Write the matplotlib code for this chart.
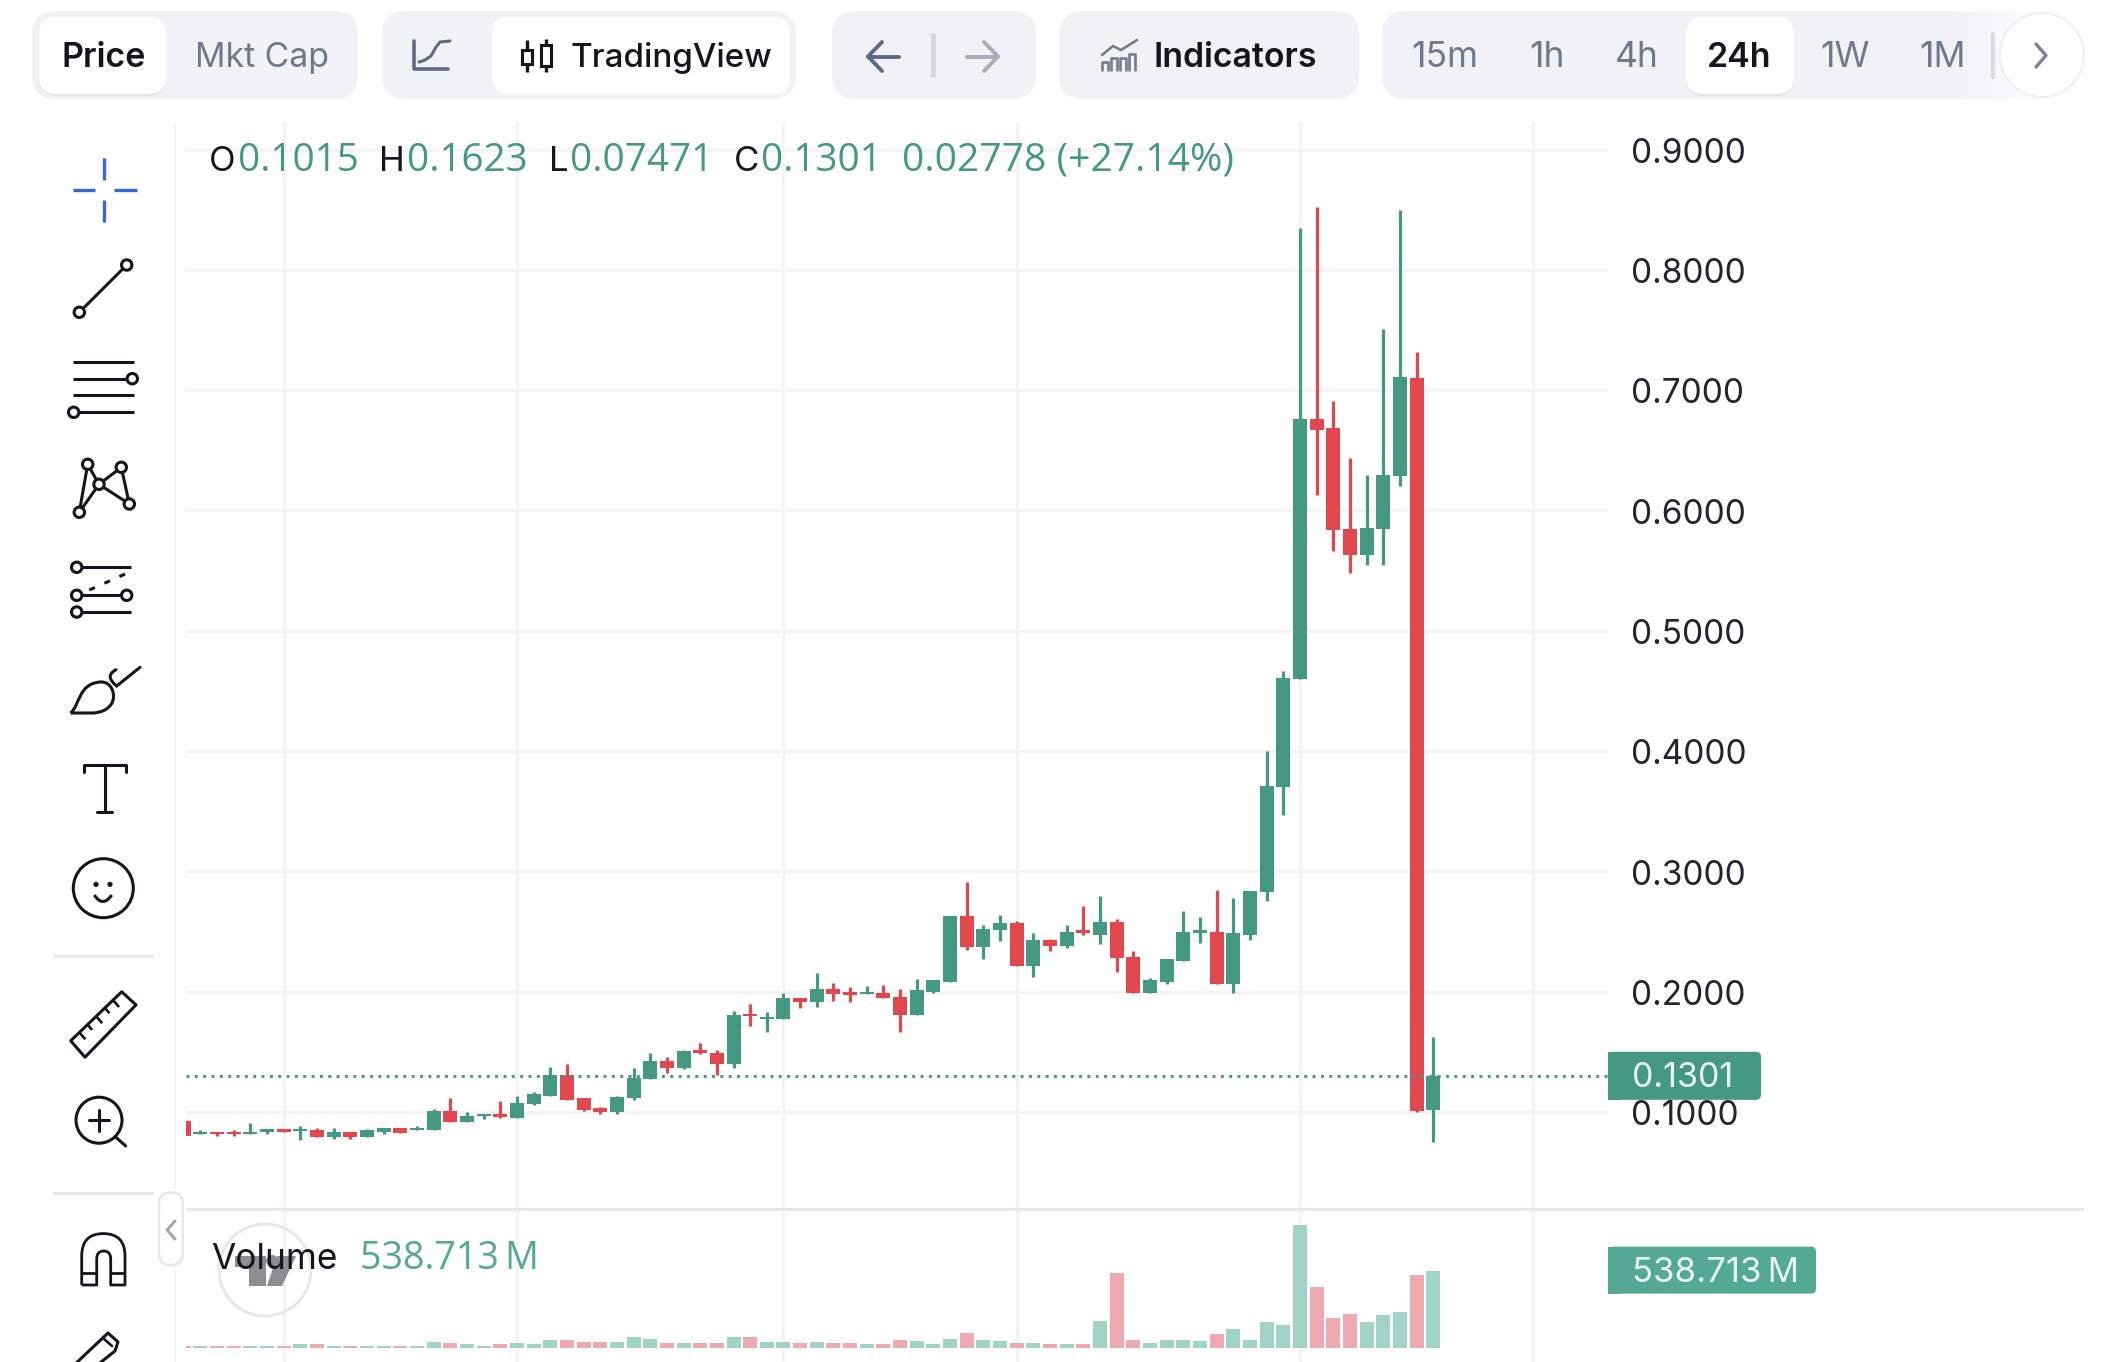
import numpy as np
import matplotlib
matplotlib.use("Agg")
import matplotlib.pyplot as plt
from matplotlib.patches import FancyBboxPatch, Rectangle, Circle, Polygon, PathPatch, Ellipse
from matplotlib.path import Path
from matplotlib.transforms import ScaledTranslation

# Daily candles, oldest first
opens = [.0928,.0814,.0834,.0834,.0814,.0836,.0859,.0839,.0848,.0789,.0836,.0789,.0836,.0870,.0848,.0848,
         .1008,.0917,.0964,.0986,.0953,.1066,.1136,.1307,.1114,.1030,.0997,.1114,.1274,.1424,.1366,.1515,
         .1493,.1402,.1817,.1770,.1773,.1945,.1912,.2022,.2000,.1981,.1989,.1956,.1806,.2000,.2084,.2627,
         .2372,.2510,.2568,.2211,.2430,.2383,.2510,.2474,.2580,.2291,.1992,.2084,.2258,.2488,.2499,.2061,
         .2474,.2825,.3699,.4599,.6758,.6688,.5844,.5628,.5846,.6287,.7101,.1015]
highs = [.0928,.0848,.0834,.0848,.0906,.0859,.0859,.0881,.0870,.0870,.0836,.0859,.0870,.0870,.0884,.1022,
         .1114,.0997,.0986,.1089,.1136,.1169,.1377,.1402,.1114,.1044,.1130,.1366,.1493,.1460,.1515,.1574,
         .1515,.1840,.1895,.1828,.1987,.1945,.2153,.2070,.2037,.2047,.2059,.2025,.2106,.2095,.2627,.2912,
         .2554,.2635,.2591,.2485,.2441,.2554,.2715,.2798,.2602,.2336,.2117,.2269,.2671,.2624,.2843,.2776,
         .2834,.4001,.4668,.8351,.8520,.6908,.6434,.6295,.7506,.8498,.7320,.1623]
lows = [.0800,.0814,.0800,.0800,.0814,.0814,.0836,.0767,.0789,.0778,.0778,.0789,.0814,.0825,.0848,.0848,
        .0917,.0917,.0939,.0950,.0953,.1055,.1136,.1102,.1008,.0986,.0986,.1102,.1274,.1321,.1355,.1482,
        .1310,.1368,.1712,.1668,.1773,.1862,.1875,.1923,.1912,.1981,.1945,.1668,.1806,.1992,.2084,.2350,
        .2269,.2419,.2211,.2120,.2338,.2361,.2474,.2394,.2164,.1992,.1992,.2061,.2258,.2408,.2061,.1992,
        .2430,.2756,.3469,.4599,.6126,.5663,.5478,.5547,.5547,.6206,.1000,.07471]
closes = [.0800,.0834,.0814,.0817,.0834,.0859,.0836,.0859,.0789,.0836,.0789,.0848,.0870,.0825,.0870,.1011,
          .0917,.0964,.0986,.0961,.1078,.1147,.1307,.1102,.1019,.0997,.1125,.1285,.1424,.1366,.1504,.1493,
          .1402,.1804,.1798,.1792,.1945,.1912,.2022,.1978,.1973,.2000,.1945,.1806,.2014,.2095,.2627,.2372,
          .2521,.2568,.2211,.2430,.2383,.2499,.2488,.2580,.2280,.1992,.2095,.2269,.2499,.2510,.2061,.2488,
          .2834,.3710,.4608,.6758,.6669,.5838,.5628,.5857,.6295,.7112,.1008,.1301]
# Traded volume per candle, millions
volumes = [18.5,18.5,18.5,18.5,18.5,18.5,18.5,27.7,27.7,18.5,18.5,18.5,18.5,18.5,18.5,46.2,37,27.7,18.5,27.7,
           37,27.7,57.8,57.8,46.2,46.2,46.2,76.3,67,37,37,37,37,76.3,76.3,46.2,46.2,37,46.2,37,37,
           27.7,27.7,57.8,48.6,27.7,67,106.4,57.8,48.6,39.3,39.3,27.7,27.7,27.7,191.9,520.2,57.8,39.3,57.8,57.8,
           48.6,97.1,134.1,57.8,182.6,164.2,857.8,423.1,210.4,240.4,182.6,231.2,249.7,511,538.713]
price_ticks = [0.1, 0.2, 0.3, 0.4, 0.5, 0.6, 0.7, 0.8, 0.9]
time_ticks = [5, 19, 35, 49, 66, 80]
interval_labels = ["15m", "1h", "4h", "24h", "1W", "1M"]
ohlc_labels = ["0.1015", "0.1623", "0.07471", "0.1301"]
change_label = "0.02778 (+27.14%)"
volume_label = "538.713\u2009M"

GREEN, RED = "#459882", "#e0484e"
VOL_GREEN, VOL_RED = "#a1d4c6", "#eeaab0"
INK, SLATE, PANEL, LINE, GRID = "#14161f", "#6f788d", "#f0f2f6", "#e6e7ec", "#f4f4f6"
WIDE_DIGITS = ["Open Sans", "DejaVu Sans"]

plt.rcParams["font.family"] = ["Inter", "DejaVu Sans"]
W, H = 2104, 1362
fig = plt.figure(figsize=(W / 100, H / 100), dpi=100, facecolor="white")


def pane(x0, y0, x1, y1):
    return fig.add_axes([x0 / W, 1 - y1 / H, (x1 - x0) / W, (y1 - y0) / H])


# ---- price pane ----
ax = pane(186, 122, 1608, 1209)
idx = np.arange(len(opens)) - 1
ax.set_xlim(-0.864, 84.49)
ax.set_ylim(0.01937, 0.92294)
colors = [GREEN if c > o else RED for o, c in zip(opens, closes)]
ax.vlines(idx, lows, highs, colors=colors, linewidth=2.3, zorder=3)
body_low = np.minimum(opens, closes)
body_high = np.maximum(opens, closes)
ax.bar(idx, body_high - body_low, bottom=body_low, width=0.84, color=colors, zorder=4)
ax.axhline(closes[-1], color=GREEN, linewidth=2.1, linestyle=(0, (1, 1.86)), zorder=5)
ax.set_yticks(price_ticks, [f"{v:.4f}" for v in price_ticks])
ax.set_xticks(time_ticks, [""] * len(time_ticks))
ax.yaxis.tick_right()
ax.tick_params(axis="both", length=0)
ax.tick_params(axis="y", pad=16.5, labelsize=24, labelcolor="#22252f")
nudge = ScaledTranslation(0, -0.5 / 72, fig.dpi_scale_trans)
for tick_label in ax.get_yticklabels():
    tick_label.set_transform(tick_label.get_transform() + nudge)
ax.grid(True, color=GRID, linewidth=2.2, zorder=0)
ax.set_axisbelow(True)
for s in ax.spines.values():
    s.set_visible(False)

# ---- volume pane ----
vax = pane(186, 1209, 1608, 1362)
vax.set_xlim(ax.get_xlim())
vax.set_ylim(-95, 966)
vax.bar(idx, volumes, width=0.84, color=[VOL_GREEN if c == GREEN else VOL_RED for c in colors], zorder=3)
vax.set_xticks(time_ticks, [""] * len(time_ticks))
vax.set_yticks([])
vax.tick_params(axis="x", length=0)
vax.grid(True, axis="x", color=GRID, linewidth=2.2, zorder=0)
vax.set_axisbelow(True)
vax.patch.set_alpha(0)
for s in vax.spines.values():
    s.set_visible(False)

# ---- interface furniture, laid out in screen pixels ----
ui = fig.add_axes([0, 0, 1, 1], zorder=10)
ui.set_xlim(0, W)
ui.set_ylim(H, 0)
ui.axis("off")
ui.patch.set_alpha(0)


def box(x0, y0, x1, y1, r, fc, ec="none", lw=0, z=1):
    p = FancyBboxPatch((x0 + r, y0 + r), x1 - x0 - 2 * r, y1 - y0 - 2 * r,
                       boxstyle=f"round,pad={r},rounding_size={r}", fc=fc, ec=ec, lw=lw, zorder=z)
    ui.add_patch(p)
    return p


def stroke(xs, ys, color=INK, lw=2.2, z=6, **kw):
    ui.plot(xs, ys, color=color, lw=lw, zorder=z, solid_capstyle=kw.pop("cap", "round"),
            solid_joinstyle="round", **kw)


def ring(x, y, r=5.2, color=INK, lw=2.2):
    ui.add_patch(Circle((x, y), r, fc="white", ec=color, lw=lw, zorder=7))


def label(x, y, s, color=INK, size=23.5, weight="normal", ha="left", va="baseline", z=8, family=None):
    t = ui.text(x, y, s, color=color, fontsize=size, fontweight=weight, ha=ha, va=va, zorder=z)
    if family:
        t.set_fontfamily(family)
    return t


# toolbar groups
for x0, x1 in [(32, 358), (382, 796), (832, 1036), (1059, 1359), (1382, 2058)]:
    box(x0, 11, x1, 99, 24, PANEL)
for x0, x1 in [(39, 166), (1686, 1794)]:
    box(x0, 19, x1, 96, 17, "#e3e5ea", z=2)
for x0, x1 in [(39, 166), (492, 790), (1686, 1794)]:
    box(x0, 17, x1, 94, 17, "white", z=3)

fade = np.ones((1, 64, 4))
fade[..., 3] = np.linspace(0, 1, 64)
ui.imshow(fade, extent=(1945, 2060, 100, 8), aspect="auto", zorder=4)
ui.set_xlim(0, W)
ui.set_ylim(H, 0)
stroke([1993, 1993], [34, 77], color="#d8dbe3", lw=3, z=5)
ui.add_patch(Circle((2042, 55), 42, fc="white", ec="#eff0f3", lw=1.6, zorder=6))
stroke([2036, 2046, 2036], [44, 55.5, 67], color="#7b8294", lw=2.4, z=7)

label(62, 67, "Price", INK, 24.5, "semibold")
label(195, 67, "Mkt Cap", SLATE, 24.3)
label(571, 67, "TradingView", INK, 23.9, "medium")
label(1153, 67, "Indicators", INK, 24.3, "semibold")
for cx, s in zip([1445, 1547, 1637, 1739, 1845, 1943], interval_labels):
    chosen = s == "24h"
    label(cx, 67, s, INK if chosen else SLATE, 24.5 if chosen else 25.5, "semibold" if chosen else "normal", ha="center")

# line-chart icon
stroke([414, 414, 448], [41, 69, 69], color="#5f6b85", lw=2.6)
t = np.array([419, 425, 431, 436, 440, 450])
stroke(t, [62, 60, 56, 47, 42, 41], color="#5f6b85", lw=2.2)
# candle icon
for cx, top, bot, wt, wb in [(527, 50, 64, 40, 72), (546, 45, 66, 39, 72)]:
    stroke([cx, cx], [wt, wb], lw=2.4, cap="butt")
    ui.add_patch(Rectangle((cx - 5, top), 10, bot - top, fc="white", ec=INK, lw=2.2, zorder=7))
# history arrows
stroke([868, 899], [56.5, 56.5], color="#5f6b85", lw=2.8)
stroke([882, 868, 882], [42, 56.5, 71], color="#5f6b85", lw=2.8)
stroke([933, 933], [33, 77], color="#d2d6e0", lw=3.4, cap="butt")
stroke([967, 998], [56.5, 56.5], color="#a7adbb", lw=2.8)
stroke([984, 998, 984], [42, 56.5, 71], color="#a7adbb", lw=2.8)
# indicators icon
for x0 in [1102, 1111, 1120, 1129]:
    top = {1102: 62, 1111: 58, 1120: 58, 1129: 54}[x0]
    stroke([x0, x0, x0 + 6, x0 + 6], [70, top, top, 70], color="#757c8e", lw=1.9)
stroke([1102, 1113, 1121, 1137], [55, 46, 50, 40], color="#757c8e", lw=1.9)

# sidebar
stroke([175, 175], [125, 1362], color="#f6f6f8", lw=1.6, z=0)
BLUE = "#3b66d8"
for xs, ys in [([104.3, 104.3], [158, 180]), ([104.3, 104.3], [200, 222]),
               ([73, 95], [190, 190]), ([114, 136.5], [190, 190])]:
    stroke(xs, ys, color=BLUE, lw=2.4, cap="butt")
stroke([79.3, 126.7], [312.3, 265])
ring(79.3, 312.3)
ring(126.7, 265)
for yy in [361.7, 378.7, 395.3, 412.3]:
    stroke([72.7, 134], [yy, yy], cap="butt")
ring(132.3, 378.7)
ring(73.7, 412.3)
net = {"a": (87.7, 464.3), "b": (121.3, 467.3), "c": (99, 484.3), "d": (129.3, 504), "e": (79.3, 512.3)}
for p, q in ["ea", "ac", "ce", "cb", "bd", "cd"]:
    stroke([net[p][0], net[q][0]], [net[p][1], net[q][1]])
for x_, y_ in net.values():
    ring(x_, y_)
stroke([76.7, 131], [567.3, 567.3], cap="butt")
stroke([76.7, 126.7], [595.3, 595.3], cap="butt")
stroke([76.7, 131], [612, 612], cap="butt")
ui.plot([89.3, 126.7], [590, 573.3], color=INK, lw=2.2, linestyle=(0, (2, 3.4)), zorder=6)
for x_, y_ in [(76.7, 567.3), (76.7, 595.3), (126.7, 595.3), (76.7, 612)]:
    ring(x_, y_)

# brush
blob = Path([(70.7, 713), (80, 705), (78, 684), (100, 682), (112, 681), (116, 695), (112, 703),
             (108, 710), (100, 713), (92, 713), (70.7, 713)],
            [Path.MOVETO, Path.CURVE4, Path.CURVE4, Path.CURVE4, Path.CURVE4, Path.CURVE4, Path.CURVE4,
             Path.CURVE4, Path.CURVE4, Path.CURVE4, Path.LINETO])
ui.add_patch(PathPatch(blob, fc="none", ec=INK, lw=2.2, zorder=6, joinstyle="miter"))
handle = Path([(116, 669.7), (104, 676), (116.7, 686), (140, 667.3)],
              [Path.MOVETO, Path.CURVE3, Path.CURVE3, Path.LINETO])
ui.add_patch(PathPatch(handle, fc="none", ec=INK, lw=2.2, zorder=6, capstyle="round"))
# text tool
stroke([84.3, 84.3, 125.7, 125.7], [772, 764.5, 764.5, 772])
stroke([104.7, 104.7], [764.5, 812])
stroke([97.3, 112], [812, 812])
# emoji
ui.add_patch(Ellipse((103.3, 888.2), 60, 59, fc="white", ec=INK, lw=2.2, zorder=6))
ui.add_patch(Circle((96, 884.4), 2.6, fc=INK, zorder=7))
ui.add_patch(Circle((110, 884.4), 2.6, fc=INK, zorder=7))
ui.add_patch(PathPatch(Path([(94.3, 895), (103, 908), (111.7, 895)], [Path.MOVETO, Path.CURVE3, Path.CURVE3]),
                       fc="none", ec=INK, lw=2.2, zorder=7))
stroke([53.3, 153], [956.3, 956.3], color=LINE, lw=2.2, cap="butt")
# ruler
corner = np.array([(70.7, 1040.8), (85, 1057.2), (136, 1004.9), (121.7, 991.8)])
ui.add_patch(Polygon(corner, closed=True, fc="white", ec=INK, lw=2.2, joinstyle="round", zorder=6))
for f, reach in zip([0.17, 0.33, 0.5, 0.67, 0.83], [0.42, 0.32, 0.42, 0.32, 0.42]):
    a = corner[0] + f * (corner[3] - corner[0])
    b = a + reach * (corner[1] - corner[0])
    stroke([a[0], b[0]], [a[1], b[1]], cap="butt", lw=1.9)
# zoom-in
ui.add_patch(Circle((99, 1120.2), 23, fc="white", ec=INK, lw=2.2, zorder=6))
stroke([89.3, 109], [1120, 1120], z=7)
stroke([99, 99], [1110, 1131], z=7)
stroke([115, 125.7], [1136.5, 1146], z=7)
stroke([53.3, 153], [1192.6, 1192.6], color=LINE, lw=2.2, cap="butt")
# magnet
magnet = Path([(81.7, 1285), (81.7, 1256), (81.7, 1233.6), (103.3, 1233.6), (125, 1233.6), (125, 1256), (125, 1285),
               (110.7, 1285), (110.7, 1259), (110.7, 1251), (103.7, 1251), (96.7, 1251), (96.7, 1259), (96.7, 1285), (81.7, 1285)],
              [Path.MOVETO, Path.LINETO, Path.CURVE3, Path.CURVE3, Path.CURVE3, Path.CURVE3, Path.LINETO,
               Path.LINETO, Path.LINETO, Path.CURVE3, Path.CURVE3, Path.CURVE3, Path.CURVE3, Path.LINETO, Path.LINETO])
ui.add_patch(PathPatch(magnet, fc="white", ec=INK, lw=2.0, zorder=6, joinstyle="round"))
stroke([81.7, 96.7], [1273.3, 1273.3], z=7, cap="butt", lw=2.0)
stroke([110.7, 125], [1273.3, 1273.3], z=7, cap="butt", lw=2.0)
# pencil, running off the bottom edge
stroke([73, 108, 118, 115, 96], [1366, 1333, 1342, 1351, 1366])
stroke([103, 112], [1338, 1346], lw=1.9)
# collapse handle
box(159, 1192.6, 182.7, 1265, 11, "white", ec=LINE, lw=1.8, z=6)
stroke([175, 167, 175], [1221, 1230, 1239], color="#a3a7b3", lw=2.2, z=7)

# ohlc readout
for x_, s in zip([209, 379, 549, 734], "OHLC"):
    label(x_, 171, s, INK, 25)
for x_, s in zip([238, 407, 570, 761], ohlc_labels):
    label(x_, 171, s, GREEN, 27.8, family=WIDE_DIGITS)
label(902, 171, change_label, GREEN, 28.2, family=WIDE_DIGITS)


def to_ui_y(axes, value):
    return ui.transData.inverted().transform(axes.transData.transform((0, value)))[1]


# last-price and last-volume tags
ty = to_ui_y(ax, closes[-1])
box(1608, ty - 24, 1761, ty + 24, 5, GREEN, z=6)
ui.add_patch(Rectangle((1608, ty - 24), 12, 48, fc=GREEN, zorder=6))
label(1632, ty + 11.5, f"{closes[-1]:.4f}", "#e9f5f1", 24.5)
ty = to_ui_y(vax, volumes[-1])
box(1608, ty - 24, 1816, ty + 23, 5, "#54a994", z=6)
ui.add_patch(Rectangle((1608, ty - 24), 12, 47, fc="#54a994", zorder=6))
label(1632, ty + 11, volume_label, "#e9f5f1", 25)
stroke([186, 2084], [1209, 1209], color=LINE, lw=2.2, z=2, cap="butt")

# volume legend over the watermark
ui.add_patch(Circle((265, 1270), 46, fc="none", ec="#e7e8ed", lw=2.2, zorder=5))
GREY = "#8e8e91"
ui.add_patch(Polygon([(235, 1256), (266, 1256), (266, 1286), (249, 1286), (249, 1267), (235, 1267)], fc=GREY, zorder=5))
ui.add_patch(Circle((272, 1261), 6, fc=GREY, zorder=5))
ui.add_patch(Polygon([(277, 1256), (296, 1256), (282, 1286), (267, 1286)], fc=GREY, zorder=5))
label(211, 1269, "Volume", INK, 25.4)
label(360, 1269, volume_label, "#54a994", 27.1, family=WIDE_DIGITS)

fig.savefig("out.png", dpi=100)
